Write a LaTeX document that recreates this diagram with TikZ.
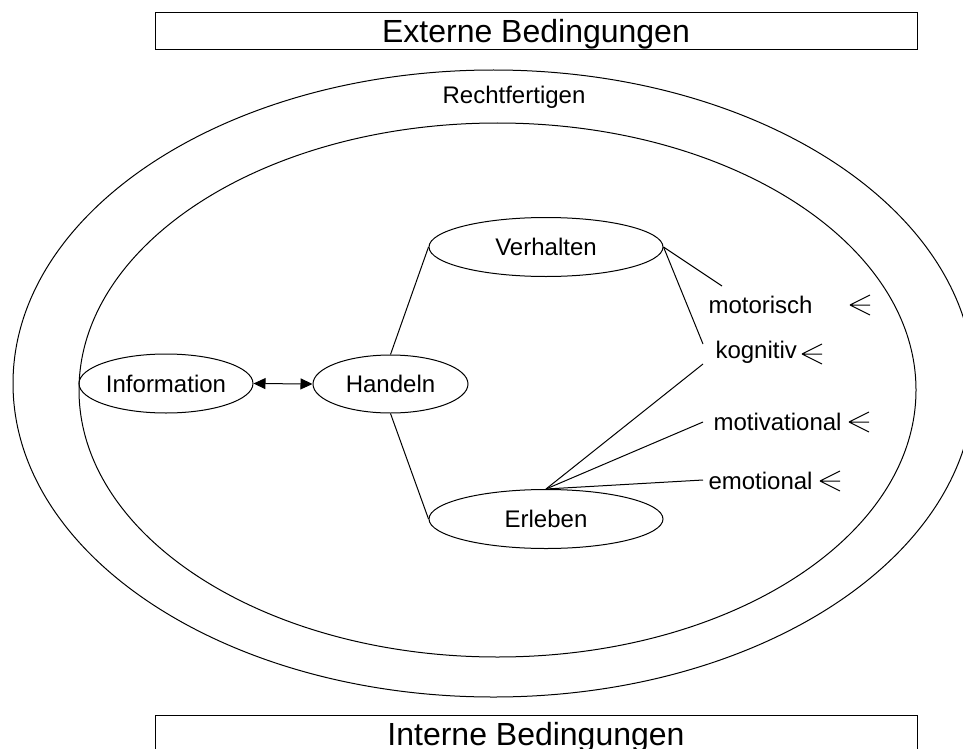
\documentclass[tikz,border=0pt]{standalone}
\usepackage{fontspec}
\setmainfont{Liberation Sans}
\usetikzlibrary{shapes.geometric,arrows.meta}
\begin{document}
\begin{tikzpicture}[x=1pt,y=-1pt,line width=1pt,
  bubble/.style={draw,ellipse,inner sep=0pt,font=\fontsize{24}{28}\selectfont},
  facet/.style={inner sep=0pt,anchor=base west,font=\fontsize{24}{28}\selectfont},
  headline/.style={inner sep=0pt,anchor=base,font=\fontsize{32}{36}\selectfont},
  twoway/.style={{Triangle[length=12pt,width=11pt]}-{Triangle[length=12pt,width=11pt]}}]
\useasboundingbox (0,0) rectangle (963,749);
\clip (0,0) rectangle (963,749);

% conditions bars
\draw (155,13) rectangle (917,50);
\node[headline] (ext) at (536,43) {Externe Bedingungen};
\draw (155,715) rectangle (917,770);
\node[headline] (int) at (536,745) {Interne Bedingungen};

% nested rings
\draw (493.5,383.5) ellipse [x radius=480.5, y radius=313.5];
\draw (497.5,390) ellipse [x radius=418.5, y radius=267];
\node[inner sep=0pt,anchor=base,font=\fontsize{24}{28}\selectfont] (recht) at (514,103) {Rechtfertigen};

% core nodes
\node[bubble,minimum width=174pt,minimum height=59pt] (info) at (166,383.5) {Information};
\node[bubble,minimum width=155pt,minimum height=58pt] (hand) at (390.5,384) {Handeln};
\node[bubble,minimum width=234pt,minimum height=59pt] (verh) at (546,247) {Verhalten};
\node[bubble,minimum width=234pt,minimum height=59pt] (erl) at (546,519) {Erleben};

\draw[twoway] (info.east) -- (hand.west);
\draw (hand.north) -- (verh.west);
\draw (hand.south) -- (erl.west);

% facets
\node[facet] (mot) at (708,313) {motorisch};
\node[facet] (kog) at (715,358) {kognitiv};
\node[facet] (moti) at (713,430) {motivational};
\node[facet] (emo) at (708,489) {emotional};

\coordinate (motin) at (722,286);
\coordinate (kogup) at (703,344);
\coordinate (koglo) at (703,364);
\coordinate (motiin) at (703,422);
\coordinate (emoin) at (703,480);

\draw (verh.east) -- (motin);
\draw (verh.east) -- (kogup);
\draw (erl.north) -- (koglo);
\draw (erl.north) -- (motiin);
\draw (erl.north) -- (emoin);

% many-markers
\foreach \x/\y in {850/305,802/354,849/422,820/481}
  \draw (\x,\y) -- ++(20,-10) (\x,\y) -- ++(20,0) (\x,\y) -- ++(20,10);
\end{tikzpicture}
\end{document}
